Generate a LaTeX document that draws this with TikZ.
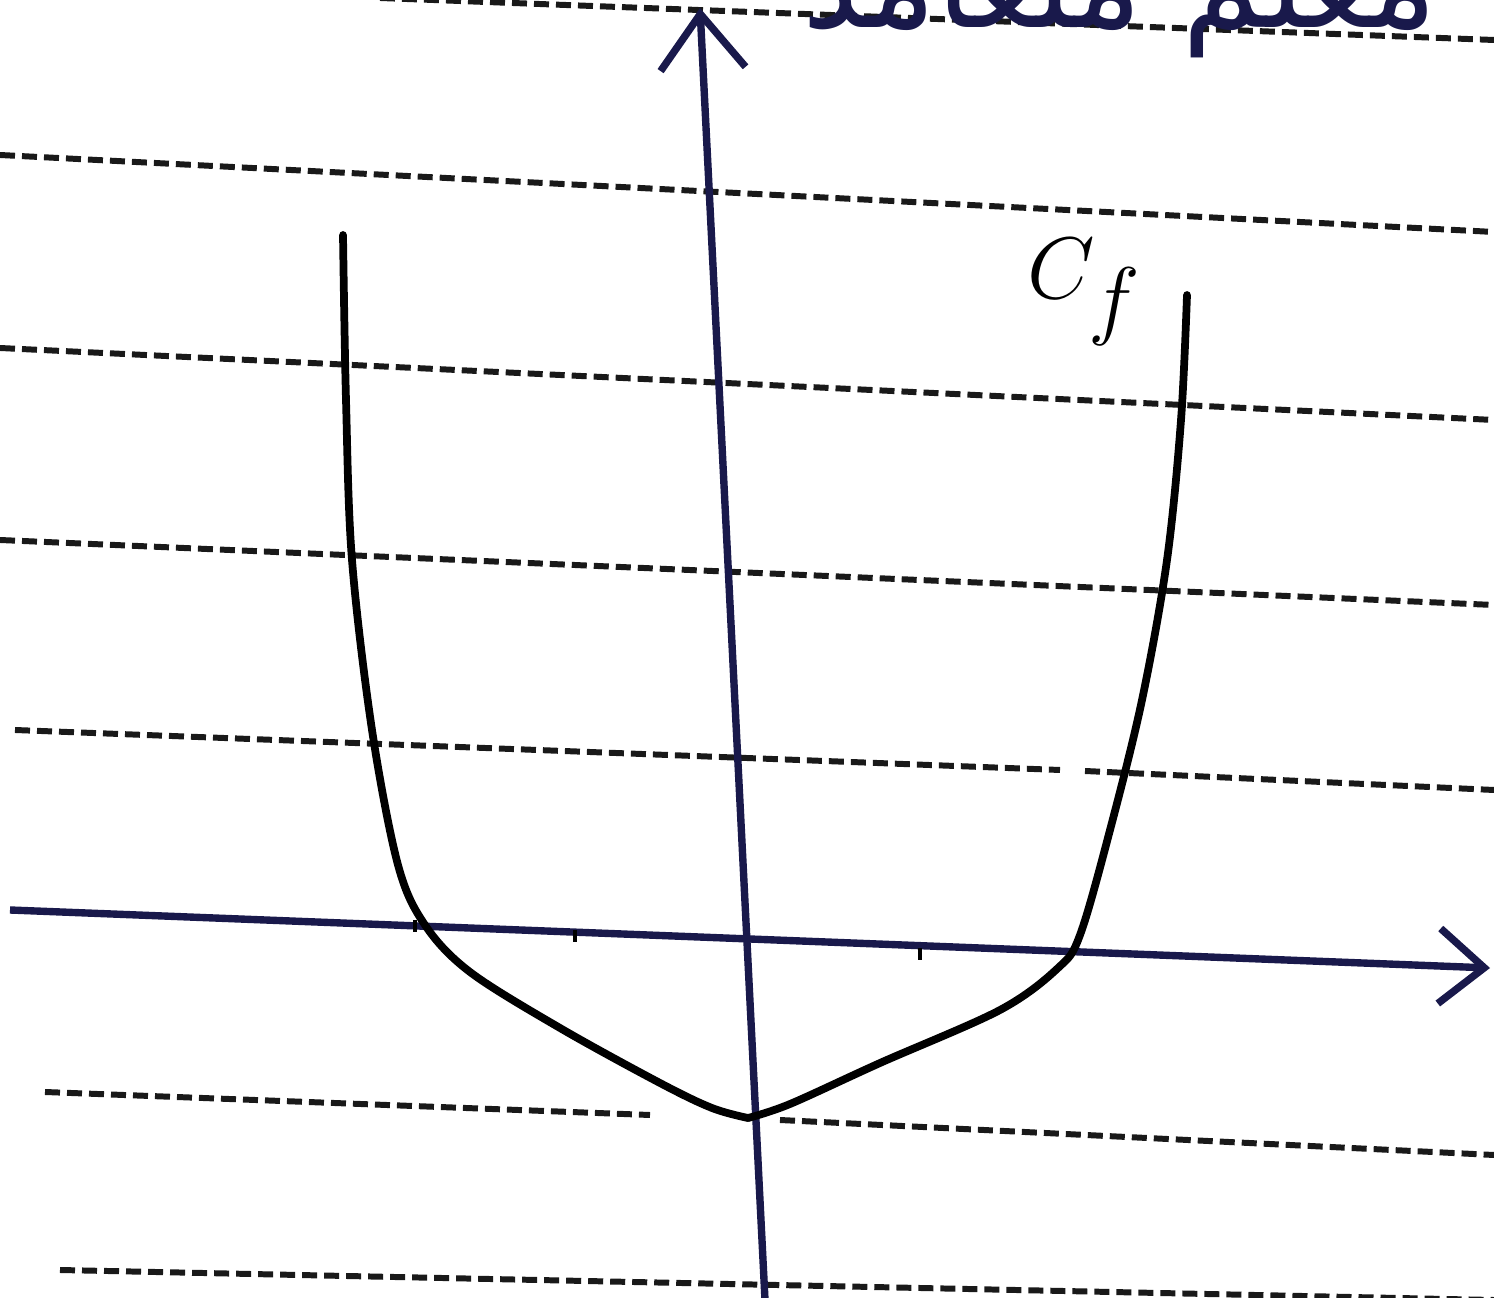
\documentclass[tikz,border=0pt]{standalone}
\usepackage{fontspec}
\newfontfamily\arabicfont[Script=Arabic]{DejaVu Sans}
\TeXXeTstate=1
\usetikzlibrary{arrows.meta}
\definecolor{ink}{RGB}{25,25,75}
\begin{document}
\begin{tikzpicture}[x=0.01cm,y=-0.01cm,
  guide/.style={line width=1.7pt, dash pattern=on 0.15cm off 0.07cm, black!90},
  axisline/.style={line width=2.1pt, draw=ink},
  curveline/.style={line width=2.2pt, black, line cap=round, line join=round},
  tickmark/.style={line width=1.4pt, black}]
\useasboundingbox (0,0) rectangle (1494,1298);
\clip (0,0) rectangle (1494,1298);
\fill[white] (0,0) rectangle (1494,1298);
% guide lines
\draw[guide] (380,-2) -- (1494,40);
\draw[guide] (0,155) -- (1494,232);
\draw[guide] (0,348) -- (1494,420);
\draw[guide] (0,540) -- (1494,605);
\draw[guide] (15,730) -- (1060,770);
\draw[guide] (1085,771) -- (1494,790);
\draw[guide] (45,1092) -- (650,1115);
\draw[guide] (780,1120) -- (1494,1155);
\draw[guide] (60,1270) -- (1494,1300);
% top text (cut off, as in the reference)
\node[text=ink, font=\arabicfont\fontsize{36}{44}\selectfont, anchor=base east] (title) at (1450,28) {\beginR معلم متعامد\endR};
% axes
\coordinate (xs) at (10,910);
\coordinate (xe) at (1490,968);
\coordinate (ys) at (765,1300);
\coordinate (ye) at (700,8);
\draw[axisline, -{Straight Barb[length=0.45cm,width=0.75cm,line width=2.1pt]}] (xs) -- (xe);
\draw[axisline, -{Straight Barb[length=0.55cm,width=0.85cm,line width=2.1pt]}] (ys) -- (ye);
% ticks
\draw[tickmark] (575,930) -- (575,942);
\draw[tickmark] (920,948) -- (920,960);
\draw[tickmark] (415,920) -- (415,932);
% curve
\coordinate (cmin) at (748,1118);
\draw[curveline] plot[smooth, tension=0.55] coordinates {
  (343,235) (346,400) (352,560) (372,730) (398,865) (425,925)
  (470,972) (560,1028) (660,1083) (712,1108) (cmin)};
\draw[curveline] plot[smooth, tension=0.55] coordinates {
  (cmin) (790,1104) (880,1063) (1000,1010) (1058,968) (1080,935)
  (1110,830) (1142,700) (1167,560) (1181,420) (1187,295)};
% label
\node[font=\fontsize{34}{40}\selectfont] (cf) at (1085,292) {$C_f$};
\end{tikzpicture}
\end{document}
